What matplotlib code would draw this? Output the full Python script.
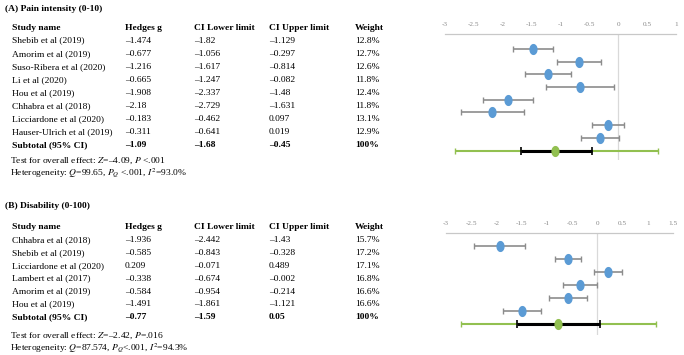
import matplotlib
matplotlib.use("Agg")
import matplotlib.pyplot as plt
import numpy as np

plt.rcParams["font.family"] = ["Liberation Serif", "DejaVu Serif"]
plt.rcParams["mathtext.fontset"] = "stix"

# (A) Pain intensity
a_studies = ["Shebib et al (2019)", "Amorim et al (2019)", "Suso-Ribera et al (2020)",
             "Li et al (2020)", "Hou et al (2019)", "Chhabra et al (2018)",
             "Licciardone et al (2020)", "Hauser-Ulrich et al (2019)"]
a_g = [-1.474, -0.677, -1.216, -0.665, -1.908, -2.18, -0.183, -0.311]
a_lo = [-1.82, -1.056, -1.617, -1.247, -2.337, -2.729, -0.462, -0.641]
a_hi = [-1.129, -0.297, -0.814, -0.082, -1.48, -1.631, 0.097, 0.019]
a_w = [12.8, 12.7, 12.6, 11.8, 12.4, 11.8, 13.1, 12.9]
a_sub = [-1.09, -1.68, -0.45]
a_pred = [-2.82, 0.69]
a_test = r"Test for overall effect: $Z$=–4.09, $P$ <.001"
a_het = r"Heterogeneity: $Q$=99.65, $P_Q$ <.001, $I^2$=93.0%"

# (B) Disability
b_studies = ["Chhabra et al (2018)", "Shebib et al (2019)", "Licciardone et al (2020)",
             "Lambert et al (2017)", "Amorim et al (2019)", "Hou et al (2019)"]
b_g = [-1.936, -0.585, 0.209, -0.338, -0.584, -1.491]
b_lo = [-2.442, -0.843, -0.071, -0.674, -0.954, -1.861]
b_hi = [-1.43, -0.328, 0.489, -0.002, -0.214, -1.121]
b_w = [15.7, 17.2, 17.1, 16.8, 16.6, 16.6]
b_sub = [-0.77, -1.59, 0.05]
b_pred = [-2.70, 1.17]
b_test = r"Test for overall effect: $Z$=–2.42, $P$=.016"
b_het = r"Heterogeneity: $Q$=87.574, $P_Q$<.001, $I^2$=94.3%"

W, H = 684, 355
FS = 6.8
BLUE = "#5b9bd5"
GREEN = "#92c050"
GRAY = "#8c8c8c"

t = np.linspace(0, 2 * np.pi, 40)
ELLIPSE = list(zip(0.7 * np.cos(t), np.sin(t)))


def fmt(v):
    return f"{v:g}".replace("-", "\u2013")


def put(fig, x, y, s, bold=False):
    fig.text(x / W, 1 - y / H, s, fontsize=FS, va="center", ha="left",
             fontweight="bold" if bold else "normal")


def draw_table(fig, title, title_y, head_y, step, studies, g, lo, hi, w, sub, test, het, test_y):
    put(fig, 5, title_y, title, bold=True)
    cols = [12, 125, 194, 269, 355]
    for x, s in zip(cols, ["Study name", "Hedges g", "CI Lower limit", "CI Upper limit", "Weight"]):
        put(fig, x, head_y, s, bold=True)
    for i, name in enumerate(studies):
        y = head_y + step * (i + 1)
        row = [name, fmt(g[i]), fmt(lo[i]), fmt(hi[i]), f"{w[i]:.1f}%"]
        for x, s in zip(cols, row):
            put(fig, x, y, s)
    y = head_y + step * (len(studies) + 1)
    row = ["Subtotal (95% CI)", fmt(sub[0]), fmt(sub[1]), fmt(sub[2]), "100%"]
    for x, s in zip(cols, row):
        put(fig, x, y, s, bold=True)
    put(fig, 10, test_y, test)
    put(fig, 10, test_y + 12, het)


def draw_forest(ax, g, lo, hi, sub, pred, xmax, ylim):
    n = len(g)
    ys = np.arange(n)
    g = np.asarray(g)
    ax.axvline(0, color="#d9d9d9", lw=0.9, zorder=0)
    ax.errorbar(g, ys, xerr=[g - np.asarray(lo), np.asarray(hi) - g], fmt="none",
                ecolor=GRAY, elinewidth=1.2, capsize=2.5, capthick=1.0, zorder=2)
    ax.plot(g, ys, ls="none", marker=ELLIPSE, ms=7, color=BLUE, zorder=3)
    ax.errorbar([sub[0]], [n], xerr=[[sub[0] - pred[0]], [pred[1] - sub[0]]], fmt="none",
                ecolor=GREEN, elinewidth=1.5, capsize=2.5, capthick=1.0, zorder=2)
    ax.errorbar([sub[0]], [n], xerr=[[sub[0] - sub[1]], [sub[2] - sub[0]]], fmt="none",
                ecolor="black", elinewidth=2.2, capsize=3, capthick=1.2, zorder=3)
    ax.plot([sub[0]], [n], ls="none", marker=ELLIPSE, ms=7, color=GREEN, zorder=4)
    ax.set_xlim(-3, xmax)
    ax.set_ylim(*ylim)
    ticks = np.arange(-3, xmax + 0.01, 0.5)
    ax.set_xticks(ticks)
    ax.set_xticklabels([f"{v:g}" for v in ticks])
    ax.xaxis.tick_top()
    ax.tick_params(axis="x", length=0, pad=5, labelsize=5.2, labelcolor="#8a8a8a")
    ax.set_yticks([])
    for side in ["left", "right", "bottom"]:
        ax.spines[side].set_visible(False)
    ax.spines["top"].set_color("#c8c8c8")
    ax.spines["top"].set_linewidth(0.9)
    ax.patch.set_alpha(0)


fig = plt.figure(figsize=(W / 100, H / 100), dpi=100)

draw_table(fig, "(A) Pain intensity (0-10)", 9, 27.5, 13.1, a_studies, a_g, a_lo, a_hi, a_w,
           a_sub, a_test, a_het, 161)
draw_table(fig, "(B) Disability (0-100)", 206, 227, 12.9, b_studies, b_g, b_lo, b_hi, b_w,
           b_sub, b_test, b_het, 336)

ax_a = fig.add_axes([445 / W, 1 - 160 / H, 231 / W, 126 / H])
draw_forest(ax_a, a_g, a_lo, a_hi, a_sub, a_pred, 1.0, (8.74, -1.18))

ax_b = fig.add_axes([446 / W, 1 - 335 / H, 227 / W, 102 / H])
draw_forest(ax_b, b_g, b_lo, b_hi, b_sub, b_pred, 1.5, (6.87, -0.98))

fig.savefig("out.png", dpi=100)
